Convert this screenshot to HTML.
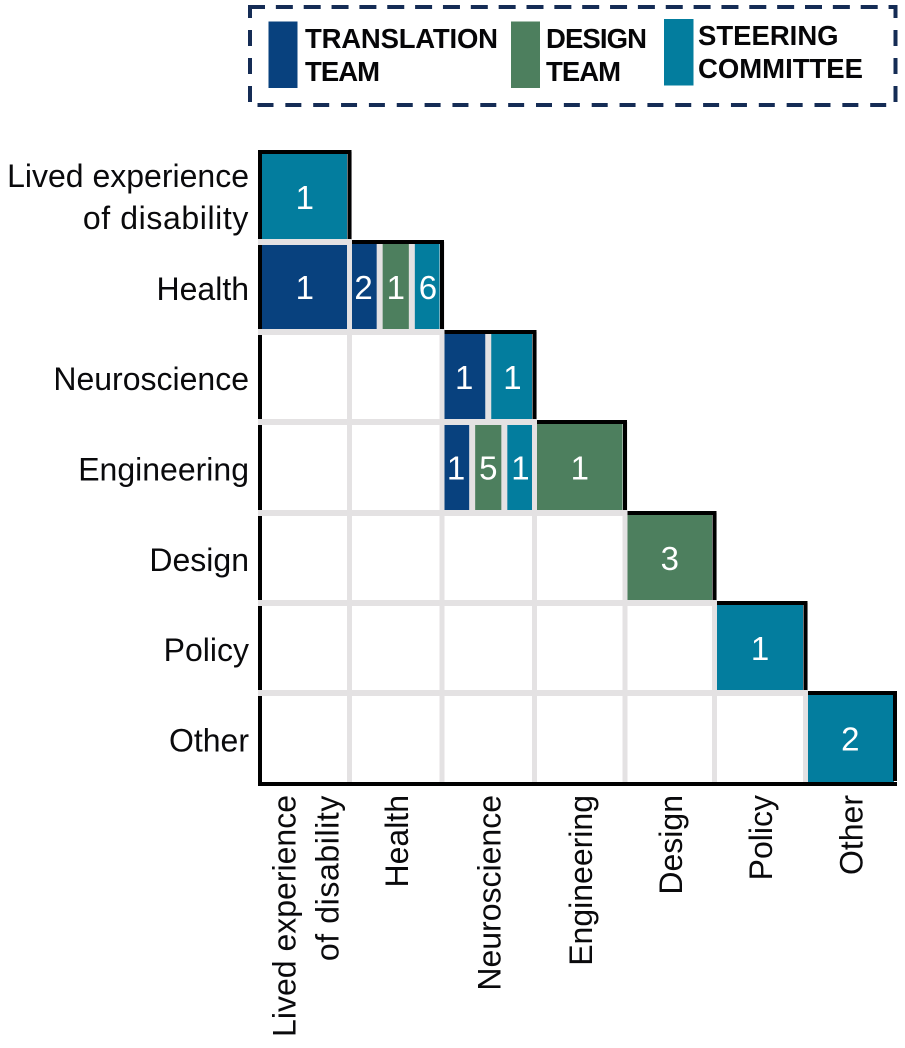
<!DOCTYPE html>
<html lang="en">
<head>
<meta charset="utf-8">
<title>Expertise matrix by team</title>
<style>
  html, body { margin: 0; padding: 0; background: #fff; }
  svg { display: block; font-family: "Liberation Sans", sans-serif; }
  .legend-text { font-weight: 700; font-size: 27.5px; fill: #060608; }
  .axis-label { font-size: 32px; fill: #0a0a0c; }
  .value { font-size: 33px; fill: #fff; text-anchor: middle; }
  .legend-dash { stroke: #152c55; stroke-width: 4; fill: none; }
</style>
</head>
<body>
<svg id="chart" xmlns="http://www.w3.org/2000/svg" width="905" height="1048" viewBox="0 0 905 1048">
  <g>
    <g>
      <line class="legend-dash" x1="248" y1="7" x2="897" y2="7" stroke-dasharray="17 10.85"/>
      <line class="legend-dash" x1="895.5" y1="5" x2="895.5" y2="103" stroke-dasharray="16 12" stroke-dashoffset="3"/>
      <line class="legend-dash" x1="257.5" y1="105" x2="887" y2="105" stroke-dasharray="16 11.85"/>
      <line class="legend-dash" x1="250" y1="5" x2="250" y2="102" stroke-dasharray="16 12" stroke-dashoffset="3"/>
    </g>
    <g>
      <rect x="268.5" y="21.5" width="29" height="66.5" fill="#08417e"/>
      <text class="legend-text"><tspan x="305" y="48" textLength="193">TRANSLATION</tspan><tspan x="305" y="81" textLength="75">TEAM</tspan></text>
    </g>
    <g>
      <rect x="511" y="21.5" width="29" height="66.5" fill="#4d7f5e"/>
      <text class="legend-text"><tspan x="546" y="48" textLength="101">DESIGN</tspan><tspan x="546" y="81" textLength="75">TEAM</tspan></text>
    </g>
    <g>
      <rect x="664" y="19" width="29.5" height="66.5" fill="#037d9e"/>
      <text class="legend-text"><tspan x="698" y="45">STEERING</tspan><tspan x="698" y="78">COMMITTEE</tspan></text>
    </g>
  </g>
  <g id="cells"></g>
  <g id="frame"></g>
  <g id="grid"></g>
  <g id="row-labels"></g>
  <g id="col-labels"></g>
</svg>
<script>
// Chart data: people counted per row/column expertise pair, one table per team.
const categories = ["Lived experience of disability", "Health", "Neuroscience", "Engineering", "Design", "Policy", "Other"];
const translationTeam = [
  [0, 0, 0, 0, 0, 0, 0],
  [1, 2, 0, 0, 0, 0, 0],
  [0, 0, 1, 0, 0, 0, 0],
  [0, 0, 1, 0, 0, 0, 0],
  [0, 0, 0, 0, 0, 0, 0],
  [0, 0, 0, 0, 0, 0, 0],
  [0, 0, 0, 0, 0, 0, 0]
];
const designTeam = [
  [0, 0, 0, 0, 0, 0, 0],
  [0, 1, 0, 0, 0, 0, 0],
  [0, 0, 0, 0, 0, 0, 0],
  [0, 0, 5, 1, 0, 0, 0],
  [0, 0, 0, 0, 3, 0, 0],
  [0, 0, 0, 0, 0, 0, 0],
  [0, 0, 0, 0, 0, 0, 0]
];
const steeringCommittee = [
  [1, 0, 0, 0, 0, 0, 0],
  [0, 6, 0, 0, 0, 0, 0],
  [0, 0, 1, 0, 0, 0, 0],
  [0, 0, 1, 0, 0, 0, 0],
  [0, 0, 0, 0, 0, 0, 0],
  [0, 0, 0, 0, 0, 1, 0],
  [0, 0, 0, 0, 0, 0, 2]
];

const SVG_NS = "http://www.w3.org/2000/svg";
const teamColor = { translation: "#08417e", design: "#4d7f5e", steering: "#037d9e" };
const GRID = "#e4e2e3";
const INK = "#000";

// Axis functions: the source grid is hand-laid, so bands are slightly uneven.
function xEdge(i) { return [260, 349.5, 442, 534.5, 625, 714.5, 805.5, 895][i]; }
function yEdge(i) { return [152, 242, 332, 422, 513, 603, 693, 784][i]; }
function slug(s) { return s.toLowerCase().replace(/\s+/g, "-"); }

function rect(parent, x, y, w, h, fill) {
  const el = document.createElementNS(SVG_NS, "rect");
  el.setAttribute("x", x);
  el.setAttribute("y", y);
  el.setAttribute("width", w);
  el.setAttribute("height", h);
  el.setAttribute("fill", fill);
  parent.appendChild(el);
  return el;
}

function text(parent, className, x, y, content, transform) {
  const el = document.createElementNS(SVG_NS, "text");
  el.setAttribute("class", className);
  el.setAttribute("x", x);
  el.setAttribute("y", y);
  if (transform) el.setAttribute("transform", transform);
  el.textContent = content;
  parent.appendChild(el);
  return el;
}

const cellsLayer = document.getElementById("cells");
const gridLayer = document.getElementById("grid");
const frameLayer = document.getElementById("frame");
const rowLabelLayer = document.getElementById("row-labels");
const colLabelLayer = document.getElementById("col-labels");
const n = categories.length;

// Cells: each occupied cell is split equally between the teams present.
for (let r = 0; r < n; r++) {
  for (let c = 0; c < n; c++) {
    const parts = [
      { team: "translation", value: translationTeam[r][c] },
      { team: "design", value: designTeam[r][c] },
      { team: "steering", value: steeringCommittee[r][c] }
    ].filter(function (p) { return p.value > 0; });
    if (!parts.length) continue;
    const gap = 6;
    const left = xEdge(c) + 1;
    const right = xEdge(c + 1) - 1;
    const w = (right - left - gap * (parts.length - 1)) / parts.length;
    if (parts.length > 1) {
      const backing = rect(cellsLayer, xEdge(c), yEdge(r), xEdge(c + 1) - xEdge(c), yEdge(r + 1) - yEdge(r), GRID);
      
      
    }
    parts.forEach(function (p, i) {
      const x = left + i * (w + gap);
      const bar = rect(cellsLayer, x, yEdge(r), w, yEdge(r + 1) - yEdge(r), teamColor[p.team]);
      
      
      const label = text(cellsLayer, "value", x + w / 2, (yEdge(r) + yEdge(r + 1)) / 2 + 12, String(p.value));
      
      
    });
  }
}

// Left black axis sits under the grey grid.
const leftAxis = rect(frameLayer, xEdge(0) - 2, yEdge(0) - 2, 4, yEdge(n) - yEdge(0) + 4, INK);



// Grey grid, lower triangle only.
for (let i = 1; i < n; i++) {
  const h = rect(gridLayer, xEdge(0) - 2, yEdge(i) - 3, xEdge(i) - xEdge(0) + 4.5, 6, GRID);
  
  
  const v = rect(gridLayer, xEdge(i) - 2.5, yEdge(i - 1), 5, yEdge(n) - yEdge(i - 1), GRID);
  
  
}

// Black staircase over the diagonal, plus the bottom axis.
for (let i = 0; i < n; i++) {
  const startX = i === 0 ? xEdge(0) - 2 : xEdge(i) + 2.5;
  const top = rect(gridLayer, startX, yEdge(i) - 2, xEdge(i + 1) + 2 - startX, 4, INK);
  
  
  const side = rect(gridLayer, xEdge(i + 1) - 2, yEdge(i) - 2, 4, yEdge(i + 1) - yEdge(i) - 1, INK);
  
  
}
const bottomAxis = rect(gridLayer, xEdge(0) - 2, yEdge(n) - 2, xEdge(n) - xEdge(0) + 4, 4, INK);



// Category labels: the long first category wraps to two lines on both axes.
function wrapLabel(name) {
  return name === categories[0] ? ["Lived experience", "of disability"] : [name];
}

categories.forEach(function (name, i) {
  const lines = wrapLabel(name);
  const cy = (yEdge(i) + yEdge(i + 1)) / 2;
  const cx = (xEdge(i) + xEdge(i + 1)) / 2;
  const lift = lines.length > 1 ? 11 : 13;
  lines.forEach(function (line, k) {
    const spread = k - (lines.length - 1) / 2;
    const rowLabel = text(rowLabelLayer, "axis-label", 249, cy + lift + spread * 42, line);
    rowLabel.setAttribute("text-anchor", "end");
    if (k === 1) rowLabel.setAttribute("letter-spacing", "0.6");
    
    

    const baseX = cx + 12 + spread * 43;
    const colLabel = text(colLabelLayer, "axis-label", baseX, 795, line, "rotate(-90 " + baseX + " 795)");
    colLabel.setAttribute("text-anchor", "end");
    if (k === 1) colLabel.setAttribute("letter-spacing", "0.6");
    
    
  });
});
</script>
</body>
</html>
